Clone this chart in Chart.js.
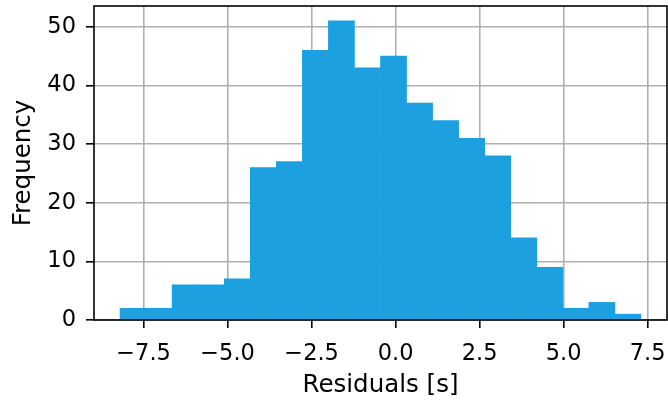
<!DOCTYPE html>
<html>
<head>
<meta charset="utf-8">
<script src="https://cdn.jsdelivr.net/npm/chart.js@4/dist/chart.umd.min.js"></script>
<style>
  html, body { margin: 0; padding: 0; background: #fff; }
  #wrap { width: 668px; height: 400px; }
</style>
</head>
<body>
<div id="wrap"><canvas id="hist"></canvas></div>
<script>
// Histogram of residuals, 20 bins
const binStart = -8.2;
const binEnd = 7.3;
const counts = [2, 2, 6, 6, 7, 26, 27, 46, 51, 43, 45, 37, 34, 31, 28, 14, 9, 2, 3, 1];
const xTicks = [-7.5, -5.0, -2.5, 0.0, 2.5, 5.0, 7.5];
const yTicks = [0, 10, 20, 30, 40, 50];

const barColor = "#1ca0e0";
const gridColor = "#b0b0b0";
const fontFamily = "'DejaVu Sans', sans-serif";

function getBins(start, end, values) {
  var width = (end - start) / values.length;
  var points = [];
  values.forEach((v, i) => {
    points.push({x: start + width * (i + 0.5), y: v});
  });
  return points;
}

function fmtTick(v) {
  // matplotlib style unicode minus
  return v.toFixed(1).replace("-", "\u2212");
}

// black box around the axes, like matplotlib spines
const frame = {
  id: "frame",
  afterDraw(chart) {
    const a = chart.chartArea;
    const ctx = chart.ctx;
    ctx.save();
    ctx.strokeStyle = "#000";
    ctx.lineWidth = 1.6;
    ctx.strokeRect(a.left, a.top, a.right - a.left, a.bottom - a.top);
    ctx.restore();
  }
};

const span = binEnd - binStart;
const maxCount = Math.max(...counts);

var ctx = document.getElementById("hist");
new Chart(ctx, {
  type: "bar",
  data: {
    datasets: [{
      data: getBins(binStart, binEnd, counts),
      backgroundColor: barColor,
      borderWidth: 0,
      barPercentage: 1.0,
      categoryPercentage: 1.0
    }]
  },
  plugins: [frame],
  options: {
    responsive: true,
    maintainAspectRatio: false,
    animation: false,
    layout: { padding: { top: 6, right: 1, left: 0, bottom: 0 } },
    plugins: {
      legend: { display: false },
      tooltip: { enabled: false }
    },
    scales: {
      x: {
        type: "linear",
        z: 1,
        offset: false,
        min: binStart - 0.05 * span,
        max: binEnd + 0.05 * span,
        afterBuildTicks: (scale) => { scale.ticks = xTicks.map(v => ({value: v})); },
        afterFit: (scale) => {
          scale.height = 80;
          scale.paddingLeft = 0;
          scale.paddingRight = 0;
        },
        ticks: {
          color: "#000",
          font: { family: fontFamily, size: 22.5 },
          padding: 13,
          maxRotation: 0,
          callback: (v) => fmtTick(v)
        },
        grid: { offset: false, color: gridColor, lineWidth: 1.6, tickColor: "#000", tickLength: 8 },
        border: { display: false },
        title: {
          display: true,
          text: "Residuals [s]",
          color: "#000",
          font: { family: fontFamily, size: 24.5 },
          padding: { top: 2, bottom: 0 }
        }
      },
      y: {
        z: 1,
        min: 0,
        max: maxCount * 1.05,
        afterBuildTicks: (scale) => { scale.ticks = yTicks.map(v => ({value: v})); },
        afterFit: (scale) => {
          scale.width = 94;
          scale.paddingTop = 0;
          scale.paddingBottom = 0;
        },
        ticks: {
          color: "#000",
          font: { family: fontFamily, size: 22.5 },
          padding: 10
        },
        grid: { color: gridColor, lineWidth: 1.6, tickColor: "#000", tickLength: 8 },
        border: { display: false },
        title: {
          display: true,
          text: "Frequency",
          color: "#000",
          font: { family: fontFamily, size: 24.5 },
          padding: { top: 9, bottom: 4 }
        }
      }
    }
  }
});
</script>
</body>
</html>
